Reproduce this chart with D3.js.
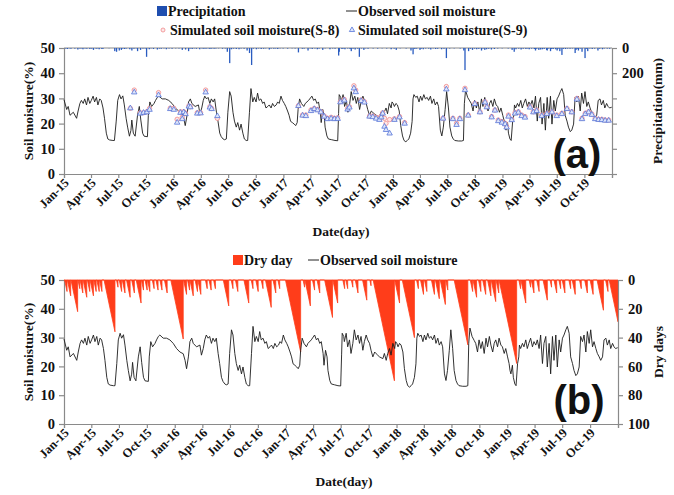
<!DOCTYPE html>
<html><head><meta charset="utf-8">
<script src="https://cdn.jsdelivr.net/npm/d3@7"></script>
<style>
body{margin:0;background:#fff}
svg{display:block}
text{font-family:"Liberation Serif","Times New Roman",serif;font-weight:bold;fill:#111}
</style>
</head><body>
<svg id="c" width="674" height="495"></svg>
<script>
// ---------- DATA (days counted from 1 Jan 2015) ----------
const smObs=[[0,29.5],[9,25.6],[14,26.8],[20,23.3],[31,24.5],[42,22.1],[47,25.0],[53,28.0],[58,29.2],[64,28.0],[69,29.8],[75,27.4],[80,30.4],[86,28.0],[91,29.2],[97,30.9],[102,28.6],[108,30.4],[113,27.4],[119,29.8],[124,29.2],[130,26.2],[135,22.1],[141,16.2],[146,13.9],[152,13.5],[163,13.3],[168,13.3],[174,21.0],[179,29.2],[185,31.5],[190,29.8],[196,31.0],[201,27.4],[207,22.1],[212,18.6],[218,15.0],[223,17.3],[226,21.4],[231,16.2],[237,15.0],[245,23.3],[251,26.8],[256,21.4],[262,16.2],[267,15.0],[278,14.8],[281,23.3],[286,28.6],[292,26.8],[300,28.0],[305,29.2],[311,30.4],[316,30.9],[327,29.8],[338,29.8],[349,29.2],[360,28.0],[371,26.2],[382,25.0],[393,24.4],[399,22.1],[404,19.2],[410,23.3],[415,28.6],[421,29.8],[426,28.0],[437,26.8],[448,27.4],[453,23.9],[459,26.2],[464,29.2],[469,30.9],[475,29.8],[480,30.4],[486,28.0],[491,29.8],[497,28.6],[502,29.8],[508,24.5],[513,21.0],[519,16.2],[524,14.8],[530,13.9],[535,13.6],[541,13.9],[546,24.5],[552,32.7],[557,30.9],[563,24.5],[568,21.0],[574,18.6],[579,20.4],[585,17.4],[590,19.8],[596,16.2],[601,13.9],[607,13.3],[612,13.3],[618,24.5],[623,33.9],[629,28.6],[634,30.4],[640,28.6],[645,32.1],[650,29.2],[656,29.8],[662,28.0],[667,28.6],[673,26.2],[679,26.8],[684,27.4],[690,26.2],[695,28.0],[701,26.8],[707,27.4],[712,28.6],[717,28.0],[723,30.9],[728,29.2],[734,28.0],[739,26.8],[745,25.0],[750,23.3],[755,20.9],[761,20.4],[767,19.8],[772,19.2],[777,20.4],[780,25.6],[785,29.8],[791,28.0],[799,26.8],[804,28.0],[815,29.2],[826,30.9],[832,29.2],[837,29.8],[843,28.0],[848,28.6],[854,24.5],[857,20.4],[862,25.6],[867,23.3],[870,18.6],[876,15.1],[881,13.9],[892,13.6],[903,13.3],[912,13.2],[915,24.0],[917,31.5],[922,30.4],[924,28.6],[930,31.5],[935,26.8],[941,29.2],[946,24.5],[952,28.0],[957,32.7],[963,29.2],[969,30.9],[974,28.0],[979,30.4],[985,25.6],[990,28.6],[996,30.9],[1001,29.2],[1007,28.0],[1012,25.6],[1018,23.3],[1024,25.0],[1029,24.4],[1034,23.9],[1040,23.3],[1051,22.7],[1056,24.5],[1062,22.1],[1067,24.5],[1073,26.2],[1078,23.9],[1084,28.0],[1090,26.2],[1093,28.6],[1097,28.0],[1101,26.8],[1106,28.0],[1111,27.4],[1117,25.0],[1122,19.2],[1128,15.1],[1133,13.3],[1139,12.8],[1144,13.3],[1149,13.9],[1155,16.2],[1160,20.9],[1163,29.8],[1166,31.5],[1172,30.4],[1177,30.9],[1183,28.6],[1188,30.9],[1193,29.2],[1199,31.5],[1204,29.8],[1210,30.4],[1215,29.2],[1221,30.9],[1226,28.0],[1232,29.8],[1237,27.4],[1243,28.6],[1248,26.8],[1254,17.4],[1259,15.1],[1264,18.6],[1270,25.6],[1275,32.7],[1281,26.2],[1286,18.6],[1292,15.1],[1297,13.9],[1302,13.3],[1314,13.1],[1325,13.1],[1331,13.3],[1334,27.9],[1338,33.3],[1345,30.4],[1352,29.0],[1357,28.0],[1363,25.0],[1368,29.2],[1374,26.2],[1379,28.6],[1385,24.5],[1391,29.8],[1396,26.8],[1402,30.4],[1407,27.4],[1413,25.0],[1418,28.0],[1423,29.2],[1429,26.8],[1434,29.8],[1440,27.4],[1445,26.8],[1451,24.5],[1456,26.2],[1462,23.3],[1467,21.0],[1470,18.6],[1473,17.4],[1478,20.4],[1481,16.2],[1486,13.9],[1490,13.3],[1495,21.0],[1499,23.3],[1501,27.4],[1505,26.2],[1511,28.0],[1516,26.8],[1522,29.2],[1527,26.2],[1532,28.0],[1538,29.8],[1544,26.8],[1549,28.6],[1555,27.4],[1560,29.2],[1566,26.2],[1571,30.9],[1577,21.0],[1582,28.0],[1588,30.4],[1593,19.8],[1599,28.0],[1604,17.4],[1610,30.4],[1615,22.1],[1621,30.9],[1626,19.8],[1632,29.2],[1637,25.0],[1643,29.8],[1648,30.9],[1654,32.7],[1659,33.9],[1665,31.5],[1670,23.3],[1676,21.0],[1681,18.6],[1687,16.8],[1692,17.4],[1698,19.8],[1703,30.4],[1709,28.6],[1714,30.9],[1720,25.0],[1725,32.1],[1731,28.0],[1736,32.7],[1742,26.8],[1747,28.6],[1753,26.2],[1758,24.5],[1764,23.3],[1769,22.1],[1775,23.3],[1780,29.2],[1786,29.8],[1791,27.4],[1797,29.2],[1802,26.2],[1808,28.0],[1813,26.8],[1818,26.2],[1825,26.5]];

// simulated soil moisture: [day, S-8, S-9]
const simSM=[[221,26.1,26.1],[234,33.3,32.4],[254,24.3,24.0],[265,24.3,24.3],[276,24.7,24.5],[285,26.0,25.5],[315,32.3,31.3],[354,26.1,25.8],[366,26.1,25.5],[377,21.7,20.4],[388,24.7,24.3],[394,22.5,21.8],[399,24.7,24.5],[405,24.1,23.8],[416,27.0,26.8],[421,26.7,26.5],[444,24.3,24.0],[455,24.3,24.1],[472,33.3,32.4],[486,26.7,26.4],[492,26.0,25.8],[511,22.1,23.0],[781,27.1,27.0],[795,23.4,23.2],[806,23.4,23.0],[823,25.4,25.0],[834,26.0,25.8],[845,25.6,25.3],[856,24.7,24.5],[867,23.0,22.8],[878,22.1,21.8],[890,22.5,22.0],[901,22.1,21.8],[912,22.3,21.9],[921,28.7,28.5],[934,29.6,29.2],[945,26.0,25.6],[951,26.7,26.4],[966,35.0,34.0],[972,33.3,32.5],[990,29.4,29.0],[1001,28.7,28.4],[1018,23.0,22.8],[1029,23.0,22.6],[1040,22.5,22.0],[1051,22.1,21.5],[1057,23.0,22.5],[1062,24.3,24.0],[1068,22.1,18.8],[1073,20.1,17.5],[1085,21.6,16.1],[1101,21.9,21.5],[1118,22.8,22.5],[1135,20.4,20.0],[1263,22.1,22.0],[1274,34.7,33.6],[1296,22.1,21.8],[1308,20.1,19.5],[1319,22.1,21.8],[1336,34.0,33.3],[1347,23.4,23.2],[1369,28.0,27.8],[1386,24.7,24.5],[1403,28.7,28.4],[1409,26.7,26.5],[1425,22.8,22.5],[1436,25.4,25.2],[1447,21.4,21.0],[1459,20.8,20.4],[1470,20.1,19.8],[1475,18.8,18.5],[1481,23.4,22.8],[1492,21.7,21.4],[1503,24.3,24.0],[1514,24.7,24.4],[1525,23.4,23.0],[1536,22.8,22.4],[1553,26.7,26.4],[1564,24.7,24.5],[1575,25.4,25.0],[1592,23.4,23.0],[1609,24.1,23.8],[1626,24.7,24.5],[1642,23.4,23.0],[1659,24.1,23.8],[1676,26.0,25.8],[1692,24.7,24.5],[1709,30.0,29.6],[1726,22.1,21.8],[1737,24.1,23.8],[1748,24.7,24.5],[1759,23.8,23.5],[1770,22.1,21.8],[1781,21.7,21.5],[1792,21.7,21.4],[1803,21.4,21.2],[1815,21.4,21.2]];

// precipitation events: [day, mm]
const precip=[[5,4],[11,8],[17,3],[23,6],[36,5],[46,12],[53,5],[58,3],[63,10],[70,4],[76,6],[86,8],[92,5],[98,15],[107,6],[112,3],[117,10],[126,8],[130,6],[150,2],[169,25],[175,30],[184,20],[191,15],[196,5],[202,8],[208,4],[219,10],[226,20],[233,6],[240,3],[245,25],[255,15],[263,5],[270,4],[275,70],[284,10],[290,3],[298,8],[311,12],[318,5],[324,6],[333,3],[341,10],[350,4],[360,6],[372,3],[383,4],[394,15],[405,12],[415,25],[420,5],[427,8],[434,3],[441,6],[452,10],[460,4],[466,7],[473,6],[480,3],[486,8],[492,5],[500,6],[506,4],[515,3],[528,6],[537,4],[544,30],[552,120],[558,10],[565,5],[574,8],[583,10],[590,4],[600,6],[610,20],[618,40],[625,135],[631,5],[641,10],[648,4],[657,8],[665,6],[672,3],[684,12],[690,5],[699,6],[705,4],[712,8],[720,3],[730,4],[745,5],[760,3],[770,4],[781,35],[794,6],[800,5],[813,20],[820,3],[827,8],[836,4],[844,10],[850,5],[862,15],[870,3],[886,10],[895,4],[903,6],[915,60],[917,30],[926,8],[930,5],[936,10],[945,4],[953,8],[957,25],[963,6],[970,12],[978,5],[984,70],[991,4],[999,15],[1005,3],[1013,6],[1030,4],[1045,5],[1060,3],[1075,4],[1090,10],[1100,5],[1107,15],[1120,3],[1140,4],[1156,20],[1163,50],[1169,8],[1175,5],[1186,15],[1190,6],[1197,10],[1205,4],[1215,5],[1222,12],[1230,3],[1238,8],[1245,6],[1258,10],[1266,6],[1274,80],[1285,4],[1300,3],[1320,4],[1332,20],[1336,175],[1348,25],[1354,6],[1361,15],[1368,5],[1375,10],[1382,7],[1391,20],[1396,5],[1402,15],[1408,10],[1415,6],[1424,12],[1434,8],[1445,4],[1460,3],[1480,4],[1493,15],[1500,30],[1506,10],[1515,5],[1523,12],[1530,6],[1539,8],[1545,4],[1550,10],[1558,5],[1567,8],[1571,20],[1575,6],[1582,15],[1588,12],[1594,10],[1600,7],[1608,15],[1610,20],[1615,5],[1621,25],[1625,8],[1630,8],[1638,10],[1643,20],[1646,6],[1652,25],[1659,55],[1664,7],[1671,8],[1678,5],[1686,6],[1694,4],[1703,40],[1706,15],[1710,6],[1714,20],[1720,5],[1726,30],[1736,80],[1740,7],[1745,25],[1752,4],[1760,8],[1768,5],[1779,20],[1785,6],[1794,10],[1800,4],[1810,5],[1818,6]];

// dry spells: [end day, number of consecutive dry days]
const drySpells=[[10,8],[22,11],[45,22],[52,6],[62,9],[75,12],[85,8],[97,11],[106,8],[116,8],[125,8],[168,36],[178,5],[190,8],[201,9],[218,12],[232,9],[254,16],[262,7],[274,7],[283,8],[297,6],[310,7],[323,7],[340,9],[393,41],[404,10],[414,7],[426,11],[440,8],[451,10],[472,6],[485,7],[499,6],[543,18],[557,6],[573,8],[609,16],[623,6],[640,8],[656,6],[683,19],[698,9],[711,6],[780,50],[793,5],[812,18],[826,7],[843,9],[885,26],[902,16],[925,6],[935,6],[952,5],[969,9],[998,14],[1012,4],[1089,70],[1106,16],[1155,40],[1168,6],[1185,10],[1196,8],[1221,10],[1237,13],[1257,17],[1265,7],[1331,45],[1347,8],[1360,12],[1374,8],[1390,10],[1407,11],[1423,15],[1433,9],[1492,58],[1505,6],[1522,16],[1538,5],[1549,9],[1566,8],[1593,14],[1607,5],[1624,9],[1637,6],[1651,9],[1670,6],[1685,10],[1705,6],[1725,9],[1744,10],[1778,21],[1793,8],[1826,29]];

const quarterLabels=["Jan-15","Apr-15","Jul-15","Oct-15","Jan-16","Apr-16","Jul-16","Oct-16","Jan-17","Apr-17","Jul-17","Oct-17","Jan-18","Apr-18","Jul-18","Oct-18","Jan-19","Apr-19","Jul-19","Oct-19"];
const smTicks=[0,10,20,30,40,50];
const precipTicks=[0,200,400,600,800,1000];
const precipLabels=[0,200];
const dryTicks=[0,20,40,60,80,100];

// ---------- DRAWING ----------
const svg=d3.select("#c");
const t0=new Date(2015,0,1), t1=new Date(2020,0,1);
const dt=d=>d3.timeDay.offset(t0,d);
const qDates=d3.timeMonth.range(t0,d3.timeDay.offset(t1,1),3);
const AX="#8a8a8a";

function styleAxis(g,fs){
  g.select(".domain").attr("stroke",AX).attr("stroke-width",1.2);
  g.selectAll(".tick line").attr("stroke",AX).attr("stroke-width",1.2);
  g.selectAll(".tick text").style("font-family","'Liberation Serif',serif").style("font-weight","bold").style("font-size",fs+"px").attr("fill","#111");
}

function basePanel(o){
  const x=d3.scaleTime().domain([t0,t1]).range([o.x0,o.x1]);
  const y=d3.scaleLinear().domain([0,50]).range([o.yb,o.yt]);
  const gx=svg.append("g").attr("transform",`translate(0,${o.yb})`)
    .call(d3.axisBottom(x).tickValues(qDates).tickSize(4).tickFormat((d,i)=>quarterLabels[i]||""));
  styleAxis(gx,12.5);
  gx.selectAll(".tick text").attr("transform","rotate(-45)").style("text-anchor","end").attr("x",-3).attr("y",6).attr("dy","0.35em");
  const gy=svg.append("g").attr("transform",`translate(${o.x0},0)`)
    .call(d3.axisLeft(y).tickValues(smTicks).tickSize(5).tickPadding(4));
  styleAxis(gy,14.5);
  svg.append("text").attr("transform",`translate(${o.x0-31},${(o.yb+o.yt)/2}) rotate(-90)`).attr("text-anchor","middle").style("font-size","13.5px").text("Soil moisture(%)");
  svg.append("text").attr("x",(o.x0+o.x1)/2+3).attr("y",o.yb+62).attr("text-anchor","middle").style("font-size","13.5px").text("Date(day)");
  return {x,y};
}

function drawObs(x,y){
  svg.append("path").datum(smObs)
    .attr("d",d3.line().x(d=>x(dt(d[0]))).y(d=>y(d[1])))
    .attr("fill","none").attr("stroke","#1c1c1c").attr("stroke-width",0.9);
}

// ---- Panel (a) ----
(function(){
  const o={x0:64,x1:612,yt:48,yb:174};
  const {x,y}=basePanel(o);
  const yP=d3.scaleLinear().domain([0,1000]).range([o.yt,o.yb]);
  svg.append("line").attr("x1",o.x0).attr("x2",o.x1).attr("y1",o.yt).attr("y2",o.yt).attr("stroke",AX).attr("stroke-width",1.2);
  const gr=svg.append("g").attr("transform",`translate(${o.x1},0)`)
    .call(d3.axisRight(yP).tickValues(precipTicks).tickSize(5).tickPadding(5).tickFormat(v=>precipLabels.includes(v)?v:""));
  styleAxis(gr,14.5);
  svg.append("text").attr("transform",`translate(${o.x1+50},${(o.yb+o.yt)/2}) rotate(-90)`).attr("text-anchor","middle").style("font-size","13.5px").text("Precipitation(mm)");
  svg.append("g").selectAll("rect").data(precip).join("rect")
    .attr("x",d=>x(dt(d[0]))-0.6).attr("width",1.3)
    .attr("y",o.yt).attr("height",d=>yP(d[1])-o.yt)
    .attr("fill","#2a5cc0");
  drawObs(x,y);
  svg.append("g").selectAll("circle").data(simSM).join("circle")
    .attr("cx",d=>x(dt(d[0]))).attr("cy",d=>y(d[1])).attr("r",2.2)
    .attr("fill","#fde8e8").attr("stroke","#f08a8c").attr("stroke-width",0.8);
  svg.append("g").selectAll("path").data(simSM).join("path")
    .attr("d",d3.symbol(d3.symbolTriangle,13))
    .attr("transform",d=>`translate(${x(dt(d[0]))},${y(d[2])})`)
    .attr("fill","#dfe6fa").attr("stroke","#5575d8").attr("stroke-width",0.8);
  svg.append("text").attr("x",577).attr("y",168).attr("text-anchor","middle")
    .style("font-family","'Liberation Sans',Arial,sans-serif").style("font-size","40px").style("font-weight","bold").text("(a)");
  // legend
  svg.append("rect").attr("x",157).attr("y",6).attr("width",10).attr("height",10).attr("fill","#1f4eaf");
  svg.append("text").attr("x",168).attr("y",16).style("font-size","14px").text("Precipitation");
  svg.append("line").attr("x1",346).attr("x2",357).attr("y1",11).attr("y2",11).attr("stroke","#222").attr("stroke-width",1);
  svg.append("text").attr("x",358).attr("y",16).style("font-size","14px").text("Observed soil moisture");
  svg.append("circle").attr("cx",163).attr("cy",30).attr("r",2).attr("fill","#fde8e8").attr("stroke","#f08a8c").attr("stroke-width",0.8);
  svg.append("text").attr("x",170).attr("y",35).style("font-size","14px").text("Simulated soil moisture(S-8)");
  svg.append("path").attr("d",d3.symbol(d3.symbolTriangle,12)).attr("transform","translate(352,30)").attr("fill","#dfe6fa").attr("stroke","#5575d8").attr("stroke-width",0.8);
  svg.append("text").attr("x",358).attr("y",35).style("font-size","14px").text("Simulated soil moisture(S-9)");
})();

// ---- Panel (b) ----
(function(){
  const o={x0:64,x1:618,yt:280,yb:424};
  const {x,y}=basePanel(o);
  const yD=d3.scaleLinear().domain([0,100]).range([o.yt,o.yb]);
  const pts=[[0,0]];
  drySpells.forEach(s=>{pts.push([s[0]-s[1],0]);pts.push([s[0],s[1]]);pts.push([s[0],0]);});
  svg.append("path").datum(pts)
    .attr("d",d3.area().x(d=>x(dt(d[0]))).y0(yD(0)).y1(d=>yD(d[1])))
    .attr("fill","#ff3d1a").attr("stroke","#ff3d1a").attr("stroke-width",0.8).attr("stroke-linejoin","miter");
  const gr=svg.append("g").attr("transform",`translate(${o.x1},0)`)
    .call(d3.axisRight(yD).tickValues(dryTicks).tickSize(5).tickPadding(5));
  styleAxis(gr,14.5);
  svg.append("text").attr("transform",`translate(${o.x1+45},${(o.yb+o.yt)/2}) rotate(-90)`).attr("text-anchor","middle").style("font-size","13.5px").text("Dry days");
  drawObs(x,y);
  svg.append("text").attr("x",579).attr("y",414).attr("text-anchor","middle")
    .style("font-family","'Liberation Sans',Arial,sans-serif").style("font-size","40px").style("font-weight","bold").text("(b)");
  svg.append("rect").attr("x",233).attr("y",255).attr("width",10).attr("height",10).attr("fill","#ff3d1a");
  svg.append("text").attr("x",244).attr("y",265).style("font-size","14px").text("Dry day");
  svg.append("line").attr("x1",308).attr("x2",319).attr("y1",260).attr("y2",260).attr("stroke","#222").attr("stroke-width",1);
  svg.append("text").attr("x",320).attr("y",265).style("font-size","14px").text("Observed soil moisture");
})();
</script>
</body></html>
